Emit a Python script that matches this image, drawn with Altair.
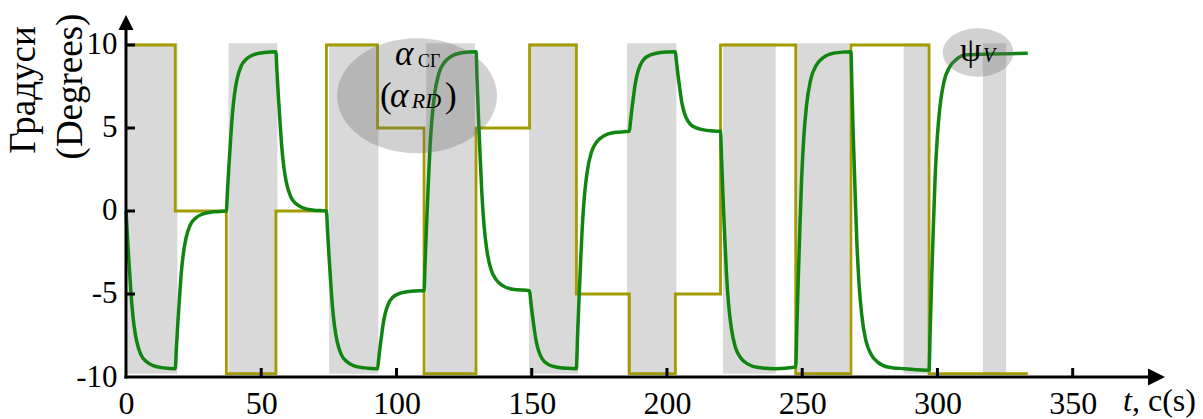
import altair as alt
import pandas as pd

# ---------------- data ----------------
# alpha (olive step signal): value held from each time until the next one
alpha_t = [0, 18.2, 37.1, 55.4, 74.1, 93.0, 110.2, 129.4, 149.2, 166.5,
           186.1, 203.1, 219.8, 247.6, 268.0, 296.9, 333.4]
alpha_v = [10, 0, -9.8, 0, 10, 5, -9.8, 5, 10, -5,
           -9.8, -5, 10, -9.8, 10, -9.8, -9.8]

# psi_V (green response), sampled along the curve
psi_t = [
    0, 0.4, 0.9, 1.5, 2.2, 3.0, 4.0, 5.5, 7.5, 10.0, 14.0,
    18.2, 18.6, 19.1, 19.7, 20.4, 21.2, 22.2, 23.7, 25.7, 28.2, 32.2,
    37.1, 37.5, 38.0, 38.6, 39.3, 40.1, 41.1, 42.6, 44.6, 47.1, 51.1,
    55.4, 55.8, 56.3, 56.9, 57.6, 58.4, 59.4, 60.9, 62.9, 65.4, 69.4,
    74.1, 74.5, 75.0, 75.6, 76.3, 77.1, 78.1, 79.6, 81.6, 84.1, 88.1,
    93.0, 93.4, 93.9, 94.5, 95.2, 96.0, 97.0, 98.5, 100.5, 103.0, 107.0,
    110.2, 110.6, 111.1, 111.7, 112.4, 113.2, 114.2, 115.7, 117.7, 120.2, 124.2,
    129.4, 129.8, 130.3, 130.9, 131.6, 132.4, 133.4, 134.9, 136.9, 139.4, 143.4,
    149.2, 149.6, 150.1, 150.7, 151.4, 152.2, 153.2, 154.7, 156.7, 159.2, 163.2,
    166.5, 166.9, 167.4, 168.0, 168.7, 169.5, 170.5, 172.0, 174.0, 176.5, 180.5,
    186.1, 186.5, 187.0, 187.6, 188.3, 189.1, 190.1, 191.6, 193.6, 196.1, 200.1,
    203.1, 203.5, 204.0, 204.6, 205.3, 206.1, 207.1, 208.6, 210.6, 213.1, 217.1,
    219.8, 220.2, 220.7, 221.3, 222.0, 222.8, 223.8, 225.3, 227.3, 229.8, 233.8, 240.0,
    247.6, 248.0, 248.5, 249.1, 249.8, 250.6, 251.6, 253.1, 255.1, 257.6, 261.6,
    268.0, 268.4, 268.9, 269.5, 270.2, 271.0, 272.0, 273.5, 275.5, 278.0, 282.0, 288.0,
    296.9, 297.3, 297.8, 298.4, 299.1, 299.9, 300.9, 302.4, 304.4, 306.9, 310.9, 333.4,
]
psi_v = [
    0, -1.14, -2.57, -4.09, -5.70, -6.94, -7.89, -8.65, -9.07, -9.31, -9.45,
    -9.5, -8.36, -6.93, -5.41, -3.80, -2.57, -1.62, -0.86, -0.43, -0.19, -0.05,
    0, 1.15, 2.59, 4.13, 5.76, 7.01, 7.97, 8.74, 9.17, 9.41, 9.55,
    9.6, 8.45, 7.01, 5.47, 3.84, 2.59, 1.63, 0.86, 0.43, 0.19, 0.05,
    0, -1.14, -2.57, -4.09, -5.70, -6.94, -7.89, -8.65, -9.07, -9.31, -9.45,
    -9.5, -8.94, -8.23, -7.48, -6.68, -6.07, -5.60, -5.22, -5.01, -4.89, -4.82,
    -4.8, -3.07, -0.91, 1.39, 3.84, 5.71, 7.15, 8.30, 8.95, 9.31, 9.53,
    9.6, 7.87, 5.71, 3.41, 0.96, -0.91, -2.35, -3.50, -4.15, -4.51, -4.73,
    -4.8, -5.36, -6.07, -6.82, -7.62, -8.23, -8.70, -9.08, -9.29, -9.41, -9.48,
    -9.5, -7.78, -5.64, -3.35, -0.92, 0.94, 2.37, 3.51, 4.16, 4.51, 4.73,
    4.8, 5.38, 6.10, 6.86, 7.68, 8.30, 8.78, 9.17, 9.38, 9.50, 9.58,
    9.6, 9.02, 8.30, 7.54, 6.72, 6.10, 5.62, 5.23, 5.02, 4.90, 4.82,
    4.8, 3.08, 0.94, -1.35, -3.78, -5.64, -7.07, -8.21, -8.86, -9.21, -9.43, -9.5,
    -9.4, -7.12, -4.27, -1.23, 2.00, 4.47, 6.37, 7.89, 8.75, 9.22, 9.51,
    9.6, 7.31, 4.44, 1.39, -1.86, -4.34, -6.25, -7.78, -8.64, -9.12, -9.41, -9.5,
    -9.6, -7.31, -4.44, -1.39, 1.86, 4.34, 6.25, 7.78, 8.64, 9.12, 9.41, 9.5,
]

# grey shaded intervals
band_start = [0.5, 37.9, 75.1, 111.0, 149.0, 185.2, 220.7, 247.3, 287.5, 316.8]
band_end = [19.0, 56.0, 93.3, 129.0, 167.1, 203.5, 240.2, 267.3, 297.0, 325.4]

# axis ticks / labels
x_labels = [0, 50, 100, 150, 200, 250, 300, 350]
y_labels = [-10, -5, 0, 5, 10]
x_ticks = [50, 100, 150, 200, 250, 300, 350]
y_ticks = [-5, 0, 5, 10]

# ---------------- styling ----------------
SERIF = "Liberation Serif"
OLIVE = "#a39b00"
GREEN = "#118511"
BAND = "#d9d9d9"

W, H = 1040, 362
xscale = alt.Scale(domain=[0, 384.5], nice=False, zero=False)
yscale = alt.Scale(domain=[-10, 11.807], nice=False, zero=False)
xaxis = alt.Axis(values=x_labels, title=None, domain=False, ticks=False, tickSize=0,
                 grid=False, labelFont=SERIF, labelFontSize=32, labelColor="black",
                 labelPadding=11, labelFlush=False, labelOverlap=False,
                 labelExpr="'' + datum.value")
yaxis = alt.Axis(values=y_labels, title=None, domain=False, ticks=False, tickSize=0,
                 grid=False, labelFont=SERIF, labelFontSize=31, labelColor="black",
                 labelPadding=9, labelFlush=False, labelOverlap=False,
                 labelExpr="'' + datum.value")

df_alpha = pd.DataFrame({"t": alpha_t, "v": alpha_v})
df_psi = pd.DataFrame({"t": psi_t, "v": psi_v})
df_band = pd.DataFrame({"start": band_start, "end": band_end})
df_xt = pd.DataFrame({"v": x_ticks})
df_yt = pd.DataFrame({"v": y_ticks})
one = alt.Data(values=[{}])

bands = alt.Chart(df_band).mark_rect(color=BAND).encode(
    x=alt.X("start:Q", scale=xscale, axis=xaxis),
    x2="end:Q",
    y=alt.YDatum(-9.8, scale=yscale, axis=yaxis),
    y2=alt.Y2Datum(10.1),
)

alpha_line = alt.Chart(df_alpha).mark_line(
    interpolate="step-after", color=OLIVE, strokeWidth=2.8
).encode(x=alt.X("t:Q", scale=xscale, axis=xaxis),
         y=alt.Y("v:Q", scale=yscale, axis=yaxis))

psi_line = alt.Chart(df_psi).mark_line(
    interpolate="monotone", color=GREEN, strokeWidth=3.5
).encode(x=alt.X("t:Q", scale=xscale, axis=xaxis),
         y=alt.Y("v:Q", scale=yscale, axis=yaxis))

# axis lines, ticks and arrow heads
y_line = alt.Chart(one).mark_rule(color="black", strokeWidth=3).encode(
    x=alt.value(0), y=alt.value(H + 1.5), y2=alt.value(14))
x_line = alt.Chart(one).mark_rule(color="black", strokeWidth=3).encode(
    x=alt.value(-1.5), x2=alt.value(1024), y=alt.value(H))

x_tick_marks = alt.Chart(df_xt).mark_tick(
    orient="vertical", size=9, thickness=3, yOffset=-4.5, color="black", opacity=1
).encode(x=alt.X("v:Q", scale=xscale, axis=xaxis),
         y=alt.YDatum(-10, scale=yscale, axis=yaxis))
y_tick_marks = alt.Chart(df_yt).mark_tick(
    orient="horizontal", size=9, thickness=3, xOffset=4.5, color="black", opacity=1
).encode(x=alt.XDatum(0, scale=xscale, axis=xaxis),
         y=alt.Y("v:Q", scale=yscale, axis=yaxis))

TRI_UP = "M0,-1L1,1L-1,1Z"
TRI_RIGHT = "M1,0L-1,-1L-1,1Z"
y_arrow = alt.Chart(one).mark_point(
    shape=TRI_UP, size=225, filled=True, color="black", opacity=1, strokeOpacity=0
).encode(x=alt.value(0), y=alt.value(7.5))
x_arrow = alt.Chart(one).mark_point(
    shape=TRI_RIGHT, size=289, filled=True, color="black", opacity=1, strokeOpacity=0
).encode(x=alt.value(1030.5), y=alt.value(H))

# translucent ellipses behind annotations
E1 = ("M-1,0C-1,-0.397,-0.5523,-0.719,0,-0.719C0.5523,-0.719,1,-0.397,1,0"
      "C1,0.397,0.5523,0.719,0,0.719C-0.5523,0.719,-1,0.397,-1,0Z")
E2 = ("M-1,0C-1,-0.379,-0.5523,-0.686,0,-0.686C0.5523,-0.686,1,-0.379,1,0"
      "C1,0.379,0.5523,0.686,0,0.686C-0.5523,0.686,-1,0.379,-1,0Z")
ell1 = alt.Chart(one).mark_point(
    shape=E1, size=25600, filled=True, color="#666666", opacity=0.3, strokeOpacity=0
).encode(x=alt.value(291), y=alt.value(80.8))
ell2 = alt.Chart(one).mark_point(
    shape=E2, size=4984, filled=True, color="#666666", opacity=0.3, strokeOpacity=0
).encode(x=alt.value(852), y=alt.value(37.5))


def txt(s, x, y, size, style="normal", align="left", angle=0):
    return alt.Chart(one).mark_text(
        text=s, font=SERIF, fontSize=size, fontStyle=style, align=align,
        baseline="alphabetic", angle=angle, color="black"
    ).encode(x=alt.value(x), y=alt.value(y))


texts = [
    # annotation alpha_CГ (alpha_RD)
    txt("α", 269, 50, 35, "italic"),
    txt("СГ", 292, 51.7, 18),
    txt("(", 254, 92, 35),
    txt("α", 264, 92, 35, "italic"),
    txt("RD", 285.7, 93, 22, "italic"),
    txt(")", 319, 92, 35),
    # annotation psi_V
    txt("ψ", 834, 46, 34),
    txt("V", 857, 46.7, 20, "italic"),
    # x-axis title
    txt("t", 997, 396, 32, "italic"),
    txt(", c(s)", 1006, 396, 32),
    # y-axis title (two rotated lines)
    txt("Градуси", -91, 75, 37, align="center", angle=270),
    txt("(Degrees)", -44, 71.5, 37, align="center", angle=270),
]

chart = alt.layer(
    bands, alpha_line, psi_line, ell1, ell2,
    y_line, x_line, x_tick_marks, y_tick_marks, y_arrow, x_arrow,
    *texts,
).properties(
    width=W, height=H,
    padding={"left": 126, "top": 15, "right": 37, "bottom": 42},
    autosize=alt.AutoSizeParams(type="none"),
).configure_view(strokeOpacity=0)

chart.save("out.html", embed_options={"renderer": "svg", "actions": False})
